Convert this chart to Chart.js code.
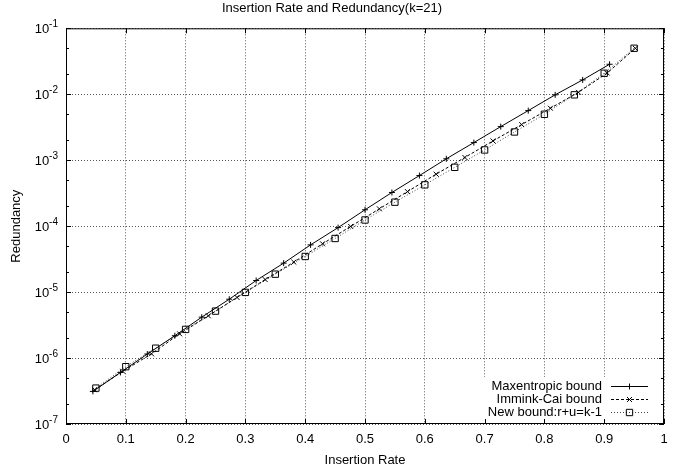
<!DOCTYPE html>
<html>
<head>
<meta charset="utf-8">
<script src="https://cdn.jsdelivr.net/npm/chart.js@4"></script>
<style>
  html, body { margin: 0; padding: 0; background: #fff; }
</style>
</head>
<body>
<canvas id="redundancyChart" width="691" height="470"></canvas>
<script>
// values
const maxentX = [0.045, 0.091, 0.136, 0.182, 0.227, 0.273, 0.318, 0.364, 0.409, 0.455,
                 0.5, 0.545, 0.591, 0.636, 0.682, 0.727, 0.773, 0.818, 0.864, 0.909];
const maxentY = [3.12e-7, 6.05e-7, 1.15e-6, 2.18e-6, 4.17e-6, 7.8e-6, 1.5e-5, 2.75e-5, 5.2e-5, 9.5e-5,
                 1.77e-4, 3.24e-4, 5.85e-4, 1.05e-3, 1.85e-3, 3.23e-3, 5.65e-3, 9.8e-3, 1.65e-2, 2.85e-2];

const imminkX = [0.048, 0.095, 0.143, 0.19, 0.238, 0.286, 0.333, 0.381, 0.429, 0.476,
                 0.524, 0.571, 0.619, 0.667, 0.714, 0.762, 0.81, 0.857, 0.905, 0.952];
const imminkY = [3.3e-7, 6.3e-7, 1.16e-6, 2.33e-6, 4.37e-6, 8.3e-6, 1.55e-5, 2.85e-5, 5.4e-5, 9.9e-5,
                 1.83e-4, 3.34e-4, 6.14e-4, 1.1e-3, 1.96e-3, 3.47e-3, 6.14e-3, 1.07e-2, 2.1e-2, 4.97e-2];

const newX = [0.05, 0.1, 0.15, 0.2, 0.25, 0.3, 0.35, 0.4, 0.45, 0.5,
              0.55, 0.6, 0.65, 0.7, 0.75, 0.8, 0.85, 0.9, 0.95];
const newY = [3.5e-7, 7.4e-7, 1.41e-6, 2.72e-6, 5.15e-6, 9.9e-6, 1.87e-5, 3.47e-5, 6.5e-5, 1.24e-4,
              2.31e-4, 4.23e-4, 7.8e-4, 1.43e-3, 2.68e-3, 4.97e-3, 9.8e-3, 2.08e-2, 4.98e-2];

const seriesNames = ['Maxentropic bound', 'Immink-Cai bound', 'New bound:r+u=k-1'];
const yTicks = [1e-7, 1e-6, 1e-5, 1e-4, 1e-3, 1e-2, 1e-1];
const yMinorFactors = [2, 5];

const FONT = '"Liberation Sans", Arial, Helvetica, sans-serif';

function toPoints(xs, ys) {
    return xs.map((x, i) => ({ x: x, y: ys[i] }));
}

// gnuplot-style frame, inward ticks, y labels with superscripts and the legend box
const gnuplotDecor = {
    id: 'gnuplotDecor',
    beforeDatasetsDraw(chart) {
        const { ctx, chartArea: a } = chart;
        // legend box clears the grid behind it
        ctx.save();
        ctx.fillStyle = '#fff';
        ctx.fillRect(484, 377, a.right - 484 - 1, a.bottom - 377 - 1);
        ctx.restore();
    },
    afterDatasetsDraw(chart) {
        const { ctx, chartArea: a, scales } = chart;
        const xs = scales.x, ys = scales.y;
        ctx.save();
        ctx.strokeStyle = '#000';
        ctx.lineWidth = 1;
        ctx.setLineDash([]);
        ctx.strokeRect(a.left + 0.5, a.top + 0.5, a.right - a.left - 1, a.bottom - a.top - 1);

        ctx.beginPath();
        xs.ticks.forEach(t => {
            const px = Math.round(xs.getPixelForValue(t.value)) + 0.5;
            ctx.moveTo(px, a.bottom); ctx.lineTo(px, a.bottom - 5);
            ctx.moveTo(px, a.top); ctx.lineTo(px, a.top + 5);
        });
        yTicks.forEach(v => {
            const py = Math.round(ys.getPixelForValue(v)) + 0.5;
            ctx.moveTo(a.left, py); ctx.lineTo(a.left + 5, py);
            ctx.moveTo(a.right, py); ctx.lineTo(a.right - 5, py);
            if (v < 1e-1) {
                yMinorFactors.forEach(f => {
                    const pm = Math.round(ys.getPixelForValue(v * f)) + 0.5;
                    ctx.moveTo(a.left, pm); ctx.lineTo(a.left + 3, pm);
                    ctx.moveTo(a.right, pm); ctx.lineTo(a.right - 3, pm);
                });
            }
        });
        ctx.stroke();

        // y tick labels 10^n
        ctx.fillStyle = '#000';
        ctx.textAlign = 'right';
        ctx.textBaseline = 'alphabetic';
        yTicks.forEach(v => {
            const py = ys.getPixelForValue(v);
            const exp = String(Math.round(Math.log10(v)));
            ctx.font = '10px ' + FONT;
            const ew = ctx.measureText(exp).width;
            ctx.fillText(exp, 58, py - 1);
            ctx.font = '13px ' + FONT;
            ctx.fillText('10', 58 - ew, py + 5);
        });

        // legend
        const rows = [386, 399, 412];
        chart.data.datasets.forEach((ds, i) => {
            const y = rows[i];
            ctx.font = '13px ' + FONT;
            ctx.textAlign = 'right';
            ctx.textBaseline = 'middle';
            ctx.fillStyle = '#000';
            ctx.fillText(ds.label, 602, y);
            ctx.strokeStyle = ds.borderColor;
            ctx.setLineDash(ds.borderDash || []);
            ctx.beginPath();
            ctx.moveTo(611, y + 0.5); ctx.lineTo(648, y + 0.5);
            ctx.stroke();
            ctx.setLineDash([]);
            ctx.strokeStyle = '#000';
            ctx.fillStyle = 'rgba(0,0,0,0)';
            Chart.helpers.drawPoint(ctx, {
                pointStyle: ds.pointStyle, radius: ds.pointRadius, borderWidth: 1, rotation: 0
            }, 629.5, y + 0.5);
        });
        ctx.restore();
    }
};

const ctx = document.getElementById('redundancyChart').getContext('2d');
new Chart(ctx, {
    type: 'line',
    data: {
        datasets: [{
            label: seriesNames[0],
            data: toPoints(maxentX, maxentY),
            borderColor: '#000',
            borderWidth: 1,
            pointStyle: 'cross',
            pointRadius: 3,
            pointBorderColor: '#000',
            pointBorderWidth: 1,
            fill: false
        }, {
            label: seriesNames[1],
            data: toPoints(imminkX, imminkY),
            borderColor: '#000',
            borderWidth: 1,
            borderDash: [3, 2],
            pointStyle: 'crossRot',
            pointRadius: 3.5,
            pointBorderColor: '#000',
            pointBorderWidth: 1,
            fill: false
        }, {
            label: seriesNames[2],
            data: toPoints(newX, newY),
            borderColor: '#444',
            borderWidth: 1,
            borderDash: [1, 2],
            pointStyle: 'rect',
            pointRadius: 4.5,
            pointBorderColor: '#000',
            pointBackgroundColor: 'rgba(0,0,0,0)',
            pointBorderWidth: 1,
            fill: false
        }]
    },
    options: {
        responsive: false,
        animation: false,
        devicePixelRatio: 1,
        layout: { padding: { left: 0, right: 27, top: 0, bottom: 0 } },
        plugins: {
            legend: { display: false },
            tooltip: { enabled: false },
            title: {
                display: true,
                text: 'Insertion Rate and Redundancy(k=21)',
                color: '#000',
                font: { family: FONT, size: 13, weight: 'normal' },
                padding: { top: 1, bottom: 11.7 }
            }
        },
        scales: {
            x: {
                type: 'linear',
                min: 0,
                max: 1,
                ticks: {
                    stepSize: 0.1,
                    color: '#000',
                    font: { family: FONT, size: 13 },
                    padding: 8,
                    maxRotation: 0,
                    callback: v => String(Number(v.toFixed(1)))
                },
                grid: { color: 'rgba(0,0,0,0.65)', lineWidth: 1, drawTicks: false },
                border: { display: false, dash: [1, 2] },
                title: {
                    display: true,
                    text: 'Insertion Rate',
                    color: '#000',
                    font: { family: FONT, size: 13 },
                    padding: { top: 0, bottom: 2 }
                },
                afterFit(scale) { scale.height = 46; }
            },
            y: {
                type: 'logarithmic',
                min: 1e-7,
                max: 1e-1,
                afterBuildTicks(scale) {
                    scale.ticks = yTicks.map(v => ({ value: v }));
                },
                ticks: { display: false },
                grid: { color: 'rgba(0,0,0,0.65)', lineWidth: 1, drawTicks: false },
                border: { display: false, dash: [1, 2] },
                title: {
                    display: true,
                    text: 'Redundancy',
                    color: '#000',
                    font: { family: FONT, size: 13 },
                    padding: { top: 9, bottom: 0 }
                },
                afterFit(scale) { scale.width = 66; }
            }
        }
    },
    plugins: [gnuplotDecor]
});
</script>
</body>
</html>
